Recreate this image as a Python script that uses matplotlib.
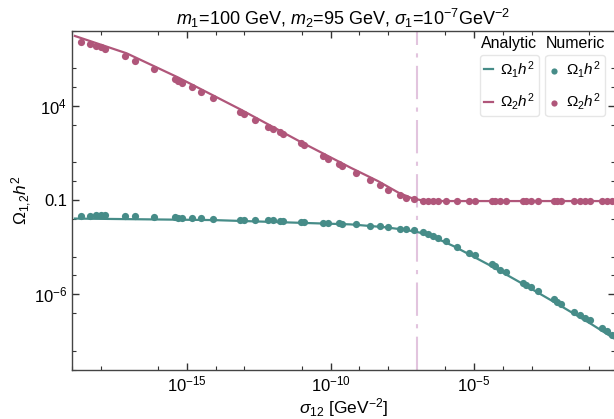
import numpy as np
import matplotlib
matplotlib.use("Agg")
import matplotlib.pyplot as plt
from matplotlib.ticker import NullFormatter

plt.rcParams['font.family'] = ['Liberation Sans', 'DejaVu Sans']
plt.rcParams['mathtext.fontset'] = 'custom'
plt.rcParams['mathtext.rm'] = 'Liberation Sans'
plt.rcParams['mathtext.it'] = 'Liberation Sans:italic'
plt.rcParams['mathtext.bf'] = 'Liberation Sans:bold'

# numeric points (log10 values)
log_sigma12 = [-18.68, -18.36, -18.18, -18.00, -17.84, -17.16, -16.80, -16.16, -15.42, -15.30,
               -15.16, -14.84, -14.50, -14.10, -13.14, -13.02, -12.63, -12.18, -12.00, -11.76,
               -11.64, -11.04, -10.92, -10.26, -10.08, -9.72, -9.60, -9.12, -8.64, -8.29,
               -7.99, -7.57, -7.39, -7.09, -6.79, -6.61, -6.43, -6.25, -5.97, -5.59,
               -5.17, -4.99, -4.39, -4.27, -4.09, -3.91, -3.31, -3.19, -3.01, -2.77,
               -2.23, -2.11, -1.99, -1.51, -1.33, -1.15, -0.97, -0.55, -0.37, -0.19]
log_omega1_num = [-1.85, -1.82, -1.80, -1.80, -1.80, -1.85, -1.85, -1.89, -1.92, -1.94,
                  -1.94, -1.96, -1.96, -1.99, -2.03, -2.03, -2.06, -2.08, -2.08, -2.12,
                  -2.12, -2.17, -2.17, -2.21, -2.22, -2.24, -2.26, -2.29, -2.35, -2.40,
                  -2.42, -2.51, -2.56, -2.61, -2.70, -2.79, -2.88, -2.99, -3.18, -3.48,
                  -3.80, -3.94, -4.42, -4.51, -4.69, -4.83, -5.40, -5.49, -5.63, -5.84,
                  -6.28, -6.41, -6.50, -6.96, -7.12, -7.24, -7.38, -7.79, -7.97, -8.15]
log_omega2_num = [7.40, 7.28, 7.19, 7.14, 7.05, 6.66, 6.39, 5.99, 5.42, 5.33,
                  5.24, 5.03, 4.74, 4.44, 3.68, 3.59, 3.26, 2.90, 2.79, 2.62,
                  2.49, 2.01, 1.93, 1.34, 1.16, 0.93, 0.81, 0.42, 0.05, -0.20,
                  -0.47, -0.75, -0.88, -0.96, -1.05, -1.05, -1.05, -1.05, -1.05, -1.05,
                  -1.05, -1.05, -1.05, -1.05, -1.05, -1.05, -1.05, -1.05, -1.05, -1.05,
                  -1.05, -1.05, -1.05, -1.05, -1.05, -1.05, -1.05, -1.05, -1.05, -1.05]

# analytic curves
log_sigma_an1 = [-18.90, -14.10, -9.30, -8.11, -7.39, -6.91, -6.43, -5.71, -4.51, -3.31, -2.11, -0.91, -0.10]
log_omega1_an = [-1.98, -2.06, -2.29, -2.44, -2.58, -2.72, -2.95, -3.45, -4.42, -5.45, -6.51, -7.60, -8.38]
log_sigma_an2 = [-18.90, -17.10, -15.30, -13.14, -11.10, -9.30, -8.35, -7.63, -7.15, -6.79, -6.19, -0.10]
log_omega2_an = [7.72, 6.80, 5.51, 3.82, 2.14, 0.72, 0.01, -0.61, -0.91, -1.02, -1.05, -1.05]

sigma1 = 1e-7
teal = '#468c88'
pink = '#b0567a'

fig = plt.figure(figsize=(6.14, 4.19), dpi=100)
ax = fig.add_axes([0.1173, 0.1181, 0.8843, 0.8086])

ax.plot(10**np.array(log_sigma_an1), 10**np.array(log_omega1_an), color=teal, lw=1.6, zorder=3)
ax.plot(10**np.array(log_sigma_an2), 10**np.array(log_omega2_an), color=pink, lw=1.6, zorder=3)
ax.scatter(10**np.array(log_sigma12), 10**np.array(log_omega1_num), s=27, color=teal, lw=0, zorder=4)
ax.scatter(10**np.array(log_sigma12), 10**np.array(log_omega2_num), s=27, color=pink, lw=0, zorder=4)
ax.axvline(sigma1, color='#e2c4de', lw=1.5, dashes=[16, 4, 2, 4], zorder=2)

ax.set_xscale('log')
ax.set_yscale('log')
ax.set_xlim(10**-18.83, 10**-0.10)
ax.set_ylim(1e-10, 1e8)

# major ticks every 5 decades, minor ticks as in the original
xmaj = [-15, -10, -5]
ax.set_xticks([10.0**k for k in xmaj])
ax.set_xticklabels([r'$10^{%d}$' % k for k in xmaj])
ax.set_xticks([10.0**k for k in range(-20, 1) if (k % 5) != 0 and (k % 5) != 3], minor=True)
ax.xaxis.set_minor_formatter(NullFormatter())
ymaj = [4, -1, -6]
ax.set_yticks([10.0**k for k in ymaj])
ax.set_yticklabels([r'$10^{4}$', '0.1', r'$10^{-6}$'])
ax.set_yticks([10.0**k for k in range(-11, 9) if ((k + 1) % 5) != 0 and ((k + 1) % 5) != 3], minor=True)
ax.yaxis.set_minor_formatter(NullFormatter())
ax.tick_params(which='both', direction='in', top=True, right=True, labelsize=12, colors='#333333',
               labelcolor='black')
ax.tick_params(which='major', length=5, width=1)
ax.tick_params(which='minor', length=3, width=0.8)
for s in ax.spines.values():
    s.set_color('#444444')
    s.set_linewidth(1.0)

ax.set_xlabel(r'$\sigma_{12}$ [GeV$^{-2}$]', fontsize=12.5, labelpad=1)
ax.set_ylabel(r'$\Omega_{1{,}2}h^2$', fontsize=12.5, labelpad=0)
ax.set_title(r'$m_1$=100 GeV, $m_2$=95 GeV, $\sigma_1$=10$^{-7}$GeV$^{-2}$', fontsize=13, pad=4)

h1, = ax.plot([], [], color=teal, lw=1.6)
h2, = ax.plot([], [], color=pink, lw=1.6)
leg_kw = dict(loc='upper left', fontsize=11, handlelength=0.6, handletextpad=0.5,
              borderpad=0.25, labelspacing=0.75, borderaxespad=0, edgecolor='#e6e6e6',
              framealpha=1)
leg1 = ax.legend([h1, h2], [r'$\Omega_1h^2$', r'$\Omega_2h^2$'],
                 bbox_to_anchor=(0.751, 0.928), **leg_kw)
ax.add_artist(leg1)
s1 = ax.scatter([], [], s=20, color=teal, lw=0)
s2 = ax.scatter([], [], s=20, color=pink, lw=0)
ax.legend([s1, s2], [r'$\Omega_1h^2$', r'$\Omega_2h^2$'], bbox_to_anchor=(0.872, 0.928),
          scatterpoints=1, **leg_kw)
ax.text(0.805, 0.962, 'Analytic', transform=ax.transAxes, ha='center', va='center', fontsize=11.5)
ax.text(0.927, 0.962, 'Numeric', transform=ax.transAxes, ha='center', va='center', fontsize=11.5)

fig.savefig('out.png', dpi=100)
